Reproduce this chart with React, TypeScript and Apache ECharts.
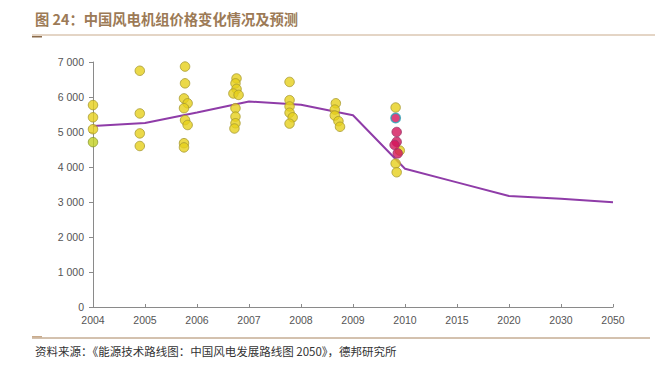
import React, { useEffect, useRef } from "react";
import * as echarts from "echarts";

const yearLabels = ["2004", "2005", "2006", "2007", "2008", "2009", "2010", "2015", "2020", "2030", "2050"];
const linePrices = [5170, 5260, 5560, 5870, 5780, 5480, 3950, 3560, 3170, 3090, 2990];

// scatter points: [axis position, price]
const yellowDots: [number, number][] = [
  [0, 5770], [0, 5420], [0, 5080],
  [0.9, 6750], [0.9, 5530], [0.9, 4960], [0.9, 4600],
  [1.77, 6870], [1.77, 6390], [1.75, 5960], [1.82, 5820], [1.75, 5680], [1.77, 5340], [1.82, 5200], [1.75, 4680], [1.75, 4560],
  [2.76, 6530], [2.74, 6390], [2.76, 6230], [2.7, 6100], [2.8, 6060], [2.74, 5680], [2.74, 5440], [2.74, 5250], [2.72, 5100],
  [3.78, 6430], [3.78, 5910], [3.78, 5730], [3.78, 5550], [3.84, 5420], [3.78, 5240],
  [4.67, 5820], [4.65, 5640], [4.65, 5470], [4.72, 5310], [4.75, 5150],
  [5.82, 5700], [5.9, 4470], [5.82, 4100], [5.84, 3850],
];
const greenDots: [number, number][] = [[0, 4710]];
const redDots: [number, number][] = [
  [5.84, 5000], [5.84, 4720], [5.8, 4630], [5.86, 4390],
];
const tealRimDots: [number, number][] = [[5.82, 5400]];

export default function App() {
  const ref = useRef<HTMLDivElement>(null);
  useEffect(() => {
    if (!ref.current) return;
    const chart = echarts.init(ref.current, null, { renderer: "svg" });
    const font = "'Liberation Sans', Arial, sans-serif";
    const dotBase = { type: "scatter", symbolSize: 9.5, z: 5 };
    chart.setOption({
      animation: false,
      backgroundColor: "#ffffff",
      grid: { left: 93, right: 42, top: 62, bottom: 60, containLabel: false },
      xAxis: {
        type: "value",
        min: 0,
        max: 10,
        interval: 1,
        axisLine: { show: true, lineStyle: { color: "#8a8a8a", width: 1 } },
        axisTick: { show: true, inside: true, length: 3, lineStyle: { color: "#8a8a8a" } },
        splitLine: { show: false },
        axisLabel: {
          color: "#555",
          fontSize: 10.5,
          fontFamily: font,
          margin: 7,
          formatter: (v: number) => yearLabels[Math.round(v)] ?? "",
        },
      },
      yAxis: {
        type: "value",
        min: 0,
        max: 7000,
        interval: 1000,
        axisLine: { show: true, lineStyle: { color: "#8a8a8a", width: 1 } },
        axisTick: { show: true, inside: false, length: 4, lineStyle: { color: "#8a8a8a" } },
        splitLine: { show: false },
        axisLabel: {
          color: "#555",
          fontSize: 10.5,
          fontFamily: font,
          margin: 9,
          formatter: (v: number) => (v >= 1000 ? `${Math.floor(v / 1000)} ${String(v % 1000).padStart(3, "0")}` : String(v)),
        },
      },
      series: [
        {
          type: "line",
          data: linePrices.map((p, i) => [i, p]),
          symbol: "none",
          z: 3,
          lineStyle: { color: "#8f3ca8", width: 2 },
        },
        {
          ...dotBase,
          data: yellowDots,
          itemStyle: { color: "#e6d01c", borderColor: "#a89a30", borderWidth: 1 },
        },
        {
          ...dotBase,
          data: greenDots,
          itemStyle: { color: "#c2cf22", borderColor: "#8a9a30", borderWidth: 1 },
        },
        {
          ...dotBase,
          data: redDots,
          itemStyle: { color: "#d3145a", borderColor: "#9a3a6a", borderWidth: 1 },
        },
        {
          ...dotBase,
          data: tealRimDots,
          itemStyle: { color: "#d3145a", borderColor: "#2aa3b5", borderWidth: 1.5 },
        },
      ],
      graphic: [
        {
          type: "text",
          left: 35,
          top: 11,
          style: {
            text: "图 24：中国风电机组价格变化情况及预测",
            fill: "#9c7a56",
            font: "bold 14.3px 'Noto Sans CJK SC', sans-serif",
          },
        },
        { type: "line", shape: { x1: 32, y1: 35, x2: 655, y2: 35 }, style: { stroke: "#c9ab8c", lineWidth: 1 } },
        { type: "rect", shape: { x: 32, y: 36, width: 10, height: 1.5 }, style: { fill: "#8b6b4b" } },
        { type: "line", shape: { x1: 32, y1: 338, x2: 650, y2: 338 }, style: { stroke: "#a8845e", lineWidth: 1 } },
        { type: "rect", shape: { x: 32, y: 336, width: 10, height: 1.5 }, style: { fill: "#c9ab8c" } },
        {
          type: "text",
          left: 35,
          top: 345,
          style: {
            text: "资料来源：《能源技术路线图：中国风电发展路线图 2050》，德邦研究所",
            fill: "#333",
            font: "11.5px 'Noto Sans CJK SC', sans-serif",
          },
        },
      ],
    });
    return () => chart.dispose();
  }, []);
  return (
    <div
      ref={ref}
      style={{ position: "fixed", left: 0, top: 0, width: 655, height: 367, background: "#fff" }}
    />
  );
}
